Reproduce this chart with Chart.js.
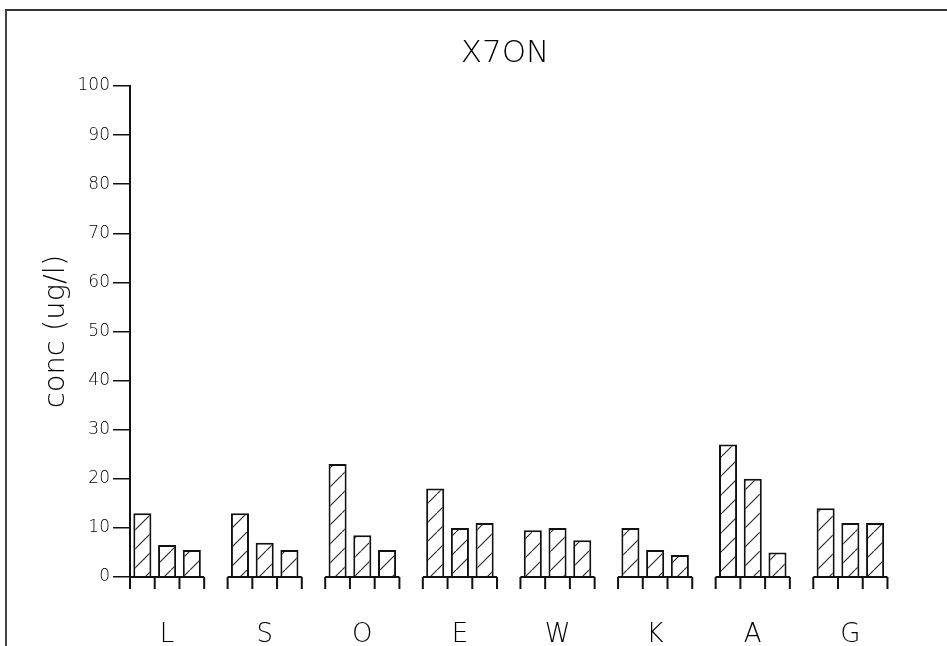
<!DOCTYPE html>
<html lang="en">

<head>
    <meta charset="UTF-8" />
    <title>X7ON</title>
    <style>
        body {
            margin: 0;
            background: #fff;
            overflow: hidden;
        }

        #wrap {
            position: relative;
            width: 947px;
            height: 646px;
        }

        #frame {
            position: absolute;
            left: 5px;
            top: 9px;
            right: 0;
            bottom: 0;
            border-top: 2px solid #333;
            border-left: 2px solid #444;
            pointer-events: none;
        }

        canvas {
            display: block;
        }
    </style>
</head>

<body>
    <div id="wrap">
        <canvas id="chart" width="947" height="646"></canvas>
        <div id="frame"></div>
    </div>

    <script src="https://cdn.jsdelivr.net/npm/chart.js"></script>

    <script>
        // sites along the x axis, three samples each
        const sites = ['L', 'S', 'O', 'E', 'W', 'K', 'A', 'G'];
        const sample1 = [13, 13, 23, 18, 9.5, 10, 27, 14];
        const sample2 = [6.5, 7, 8.5, 10, 10, 5.5, 20, 11];
        const sample3 = [5.5, 5.5, 5.5, 11, 7.5, 4.5, 5, 11];
        const yTicks = [0, 10, 20, 30, 40, 50, 60, 70, 80, 90, 100];
        const titleText = 'X7ON';

        const FONT = "'DejaVu Sans', 'Liberation Sans', sans-serif";
        const CAT_PCT = 0.76;
        const BAR_PCT = 0.73;

        // diagonal hatch used to fill every bar
        function hatch() {
            const s = 19;
            const c = document.createElement('canvas');
            c.width = s;
            c.height = s;
            const g = c.getContext('2d');
            g.fillStyle = '#fff';
            g.fillRect(0, 0, s, s);
            g.strokeStyle = '#222';
            g.lineWidth = 1.1;
            g.beginPath();
            g.moveTo(-2, s + 2);
            g.lineTo(s + 2, -2);
            g.stroke();
            return g.createPattern(c, 'repeat');
        }
        const fill = hatch();

        const toPoints = arr => arr.map((v, i) => ({ x: i, y: v }));

        function barSet(values) {
            return {
                data: toPoints(values),
                backgroundColor: fill,
                borderColor: '#111',
                borderWidth: 2,
                categoryPercentage: CAT_PCT,
                barPercentage: BAR_PCT
            };
        }

        // baseline under each group and the little cell ticks under each bar
        const groupBase = {
            id: 'groupBase',
            afterDatasetsDraw(chart) {
                const ctx = chart.ctx;
                const y0 = chart.scales.y.getPixelForValue(0);
                const first = chart.getDatasetMeta(0).data;
                const last = chart.getDatasetMeta(2).data;
                ctx.save();
                ctx.strokeStyle = '#111';
                ctx.lineWidth = 2;
                for (let i = 0; i < first.length; i++) {
                    const slot = first[i].width / BAR_PCT;
                    const left = first[i].x - slot / 2;
                    const right = last[i].x + slot / 2;
                    ctx.beginPath();
                    ctx.moveTo(left, y0);
                    ctx.lineTo(right, y0);
                    for (let k = 0; k <= 3; k++) {
                        const x = k === 3 ? right : left + k * slot;
                        ctx.moveTo(x, y0);
                        ctx.lineTo(x, y0 + 12);
                    }
                    ctx.stroke();
                }
                ctx.restore();
            }
        };

        // title sits a little right of the plot centre
        const topTitle = {
            id: 'topTitle',
            afterDraw(chart) {
                const ctx = chart.ctx;
                ctx.save();
                ctx.font = `300 31px ${FONT}`;
                ctx.fillStyle = '#000';
                ctx.textAlign = 'center';
                ctx.textBaseline = 'alphabetic';
                ctx.fillText(titleText, 505, 62);
                ctx.restore();
            }
        };

        new Chart(document.getElementById('chart'), {
            type: 'bar',
            data: {
                datasets: [barSet(sample1), barSet(sample2), barSet(sample3)]
            },
            options: {
                responsive: false,
                animation: false,
                devicePixelRatio: 1,
                layout: { padding: { left: 9, top: 86, right: 0, bottom: 0 } },
                plugins: {
                    legend: { display: false },
                    tooltip: { enabled: false },
                    title: { display: false }
                },
                scales: {
                    x: {
                        type: 'linear',
                        offset: false,
                        min: -0.38,
                        max: 7.99,
                        afterFit(scale) { scale.height = 69; },
                        border: { display: false },
                        grid: { display: false, drawTicks: false, offset: false },
                        ticks: {
                            stepSize: 1,
                            includeBounds: false,
                            padding: 43,
                            color: '#000',
                            font: { family: FONT, size: 26, weight: 300 },
                            callback: v => sites[v] ?? ''
                        }
                    },
                    y: {
                        min: 0,
                        max: 100,
                        afterFit(scale) { scale.width = 121; },
                        afterBuildTicks(scale) {
                            scale.ticks = yTicks.map(v => ({ value: v }));
                        },
                        border: { display: true, color: '#111', width: 2 },
                        grid: {
                            drawOnChartArea: false,
                            drawTicks: true,
                            tickLength: 17,
                            color: '#111',
                            lineWidth: 1.5
                        },
                        ticks: {
                            padding: 3,
                            color: '#000',
                            font: { family: FONT, size: 17, weight: 300 }
                        },
                        title: {
                            display: true,
                            text: 'conc (ug/l)',
                            color: '#000',
                            font: { family: FONT, size: 29, weight: 300 },
                            padding: { top: 30, bottom: 0 }
                        }
                    }
                }
            },
            plugins: [groupBase, topTitle]
        });
    </script>
</body>

</html>
